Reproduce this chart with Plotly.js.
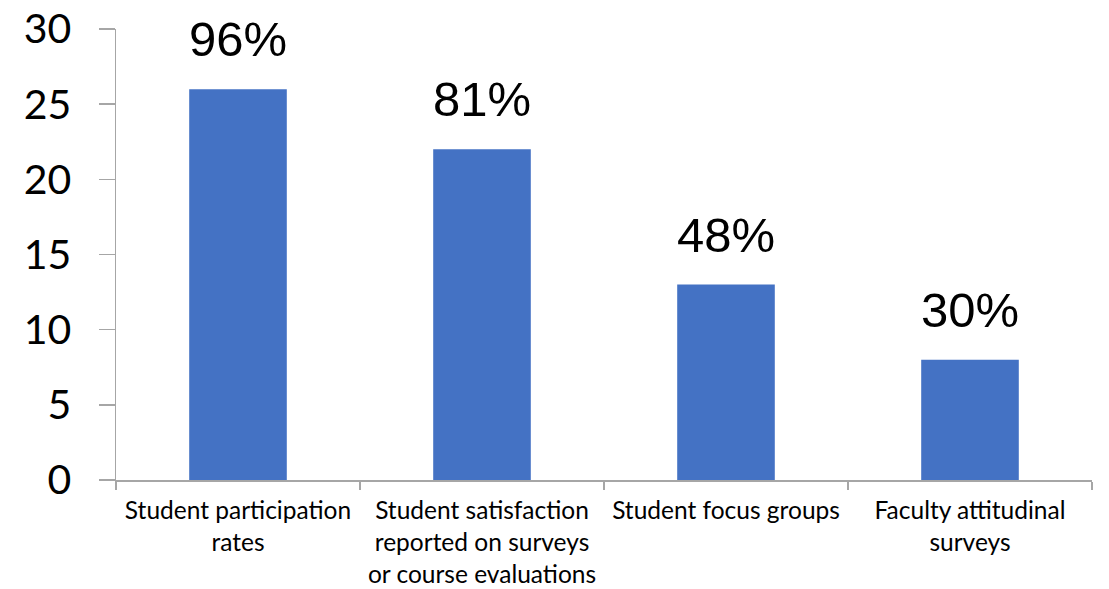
<!DOCTYPE html>
<html><head><meta charset="utf-8">
<script src="https://cdn.plot.ly/plotly-3.0.1.min.js"></script>
<style>html,body{margin:0;padding:0;background:#fff}#chart{width:1109px;height:589px}</style>
</head><body><div id="chart"></div>
<script>
const categories = ["Student participation<br>rates", "Student satisfaction<br>reported on surveys<br>or course evaluations", "Student focus groups", "Faculty attitudinal<br>surveys"];
const counts = [26, 22, 13, 8];
const percentLabels = ["96%", "81%", "48%", "30%"];
const yTicks = [0, 5, 10, 15, 20, 25, 30];

const trace = {
  type: "bar", x: categories, y: counts,
  marker: {color: "#4472C4"}, hoverinfo: "none"
};
const annotations = categories.map((c, i) => ({
  x: c, y: counts[i], text: percentLabels[i], showarrow: false,
  xanchor: "center", yanchor: "bottom", yshift: 21,
  font: {family: "Liberation Sans, Arial", size: 49, color: "#000"}
}));
const layout = {
  width: 1109, height: 589,
  margin: {l: 116, r: 17, t: 29, b: 109},
  paper_bgcolor: "#fff", plot_bgcolor: "#fff",
  bargap: 0.6, showlegend: false,
  xaxis: {type: "category", showline: true, linecolor: "#a6a6a6", linewidth: 1.5,
    ticks: "outside", tickson: "boundaries", ticklen: 8, tickcolor: "#a6a6a6", tickwidth: 1.5,
    ticklabelstandoff: 8,
    tickfont: {family: "Lato, Open Sans", size: 24.5, color: "#000"}, showgrid: false, tickangle: 0},
  yaxis: {range: [0, 30], tickvals: yTicks, showline: true, linecolor: "#a6a6a6", linewidth: 1.5,
    ticks: "outside", ticklen: 16, tickcolor: "#a6a6a6", tickwidth: 1.5, showgrid: false, zeroline: false,
    ticklabelstandoff: 19,
    tickfont: {family: "Lato, Open Sans", size: 41, color: "#000"}},
  annotations: annotations
};
Plotly.newPlot("chart", [trace], layout, {displayModeBar: false, staticPlot: true});
</script></body></html>
